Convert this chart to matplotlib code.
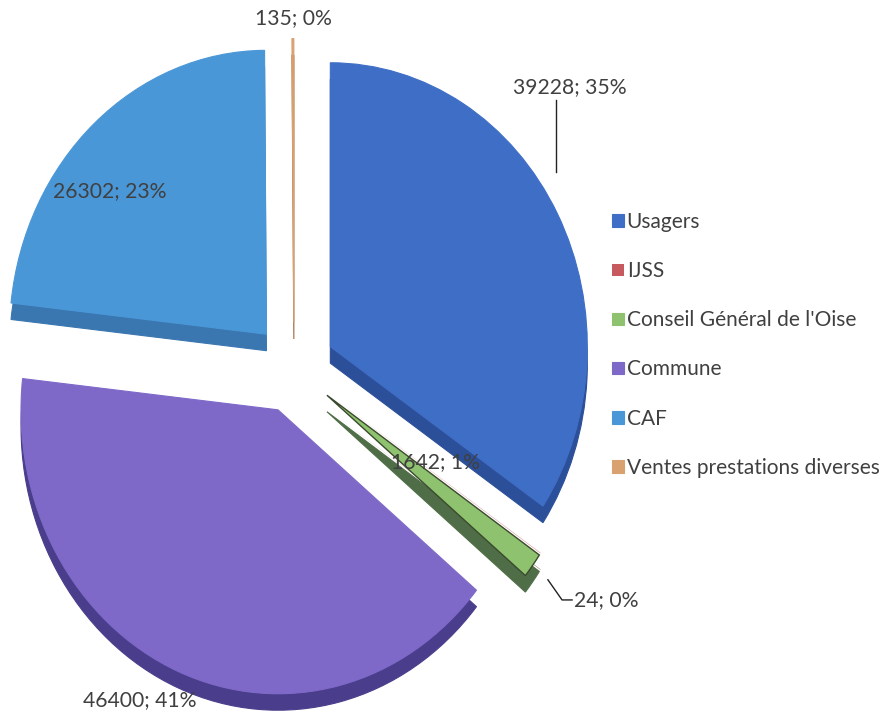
import numpy as np
import matplotlib
matplotlib.use('Agg')
import matplotlib.pyplot as plt

plt.rcParams['font.family'] = ['Lato', 'DejaVu Sans']

# --- data ---
categories = ['Usagers', 'IJSS', "Conseil Général de l'Oise", 'Commune', 'CAF',
              'Ventes prestations diverses']
values = [39228, 24, 1642, 46400, 26302, 135]
percents = ['35%', '0%', '1%', '41%', '23%', '0%']

face_colors = ['#3f6ec6', '#c65a5e', '#8ec26e', '#7f69c8', '#4a97d8', '#d9a070']
side_colors = ['#2b4f98', '#8a3a3c', '#4f6e47', '#4a3e8c', '#3a76b0', '#a06a40']

EXPLODE = 0.16
DEPTH = 0.058
TXT = '#404040'

fig = plt.figure(figsize=(8.91, 7.26), dpi=100, facecolor='white')
ax = fig.add_axes([0, 0, 1, 1])

explode = [EXPLODE] * len(values)
# side (extrusion) layer, shifted down
sides, _ = ax.pie(values, explode=explode, colors=side_colors, startangle=90,
                  counterclock=False, center=(0, -DEPTH),
                  wedgeprops=dict(linewidth=0.8, edgecolor=None))
# top faces
wedges, _ = ax.pie(values, explode=explode, colors=face_colors, startangle=90,
                   counterclock=False, center=(0, 0),
                   wedgeprops=dict(linewidth=0))
for w in wedges:
    w.set_edgecolor(w.get_facecolor())
    w.set_linewidth(0.8)
for s in sides:
    s.set_edgecolor(s.get_facecolor())
# IJSS slice is practically invisible in the original
wedges[1].set_linewidth(0)
sides[1].set_linewidth(0)

ax.set_aspect('auto')
ax.set_xlim(-1.144, 2.323)
ax.set_ylim(-1.261, 1.296)
ax.axis('off')

lab = [f'{v}; {p}' for v, p in zip(values, percents)]
fs = 15.2
# Usagers (leader line)
ax.text(1.074, 0.989, lab[0], ha='center', va='center', fontsize=fs, color=TXT)
ax.plot([1.019, 1.019], [0.944, 0.690], color='#222222', lw=1.0)
# IJSS (leader line)
ax.plot([0.988, 1.043, 1.082], [-0.746, -0.817, -0.817], color='#222222', lw=1.0)
ax.text(1.09, -0.817, lab[1], ha='left', va='center', fontsize=fs, color=TXT)
# Conseil
ax.text(0.549, -0.331, lab[2], ha='center', va='center', fontsize=fs, color=TXT)
# Commune
ax.text(-0.599, -1.169, lab[3], ha='center', va='center', fontsize=fs, color=TXT)
# CAF
ax.text(-0.716, 0.623, lab[4], ha='center', va='center', fontsize=fs, color=TXT)
# Ventes
ax.text(-0.004, 1.232, lab[5], ha='center', va='center', fontsize=fs, color=TXT)

leg = fig.legend(wedges, categories, loc='upper left',
                 bbox_to_anchor=(0.687, 0.708), frameon=False, fontsize=15,
                 handlelength=0.55, handleheight=0.55, handletextpad=0.15,
                 labelspacing=1.4, borderpad=0, borderaxespad=0)
for t in leg.get_texts():
    t.set_color(TXT)

# dark outline on the thin green slice (after legend so its key stays plain)
wedges[2].set_edgecolor('#3b4a2e')
wedges[2].set_linewidth(1.0)

fig.savefig('out.png', dpi=100, facecolor='white')
